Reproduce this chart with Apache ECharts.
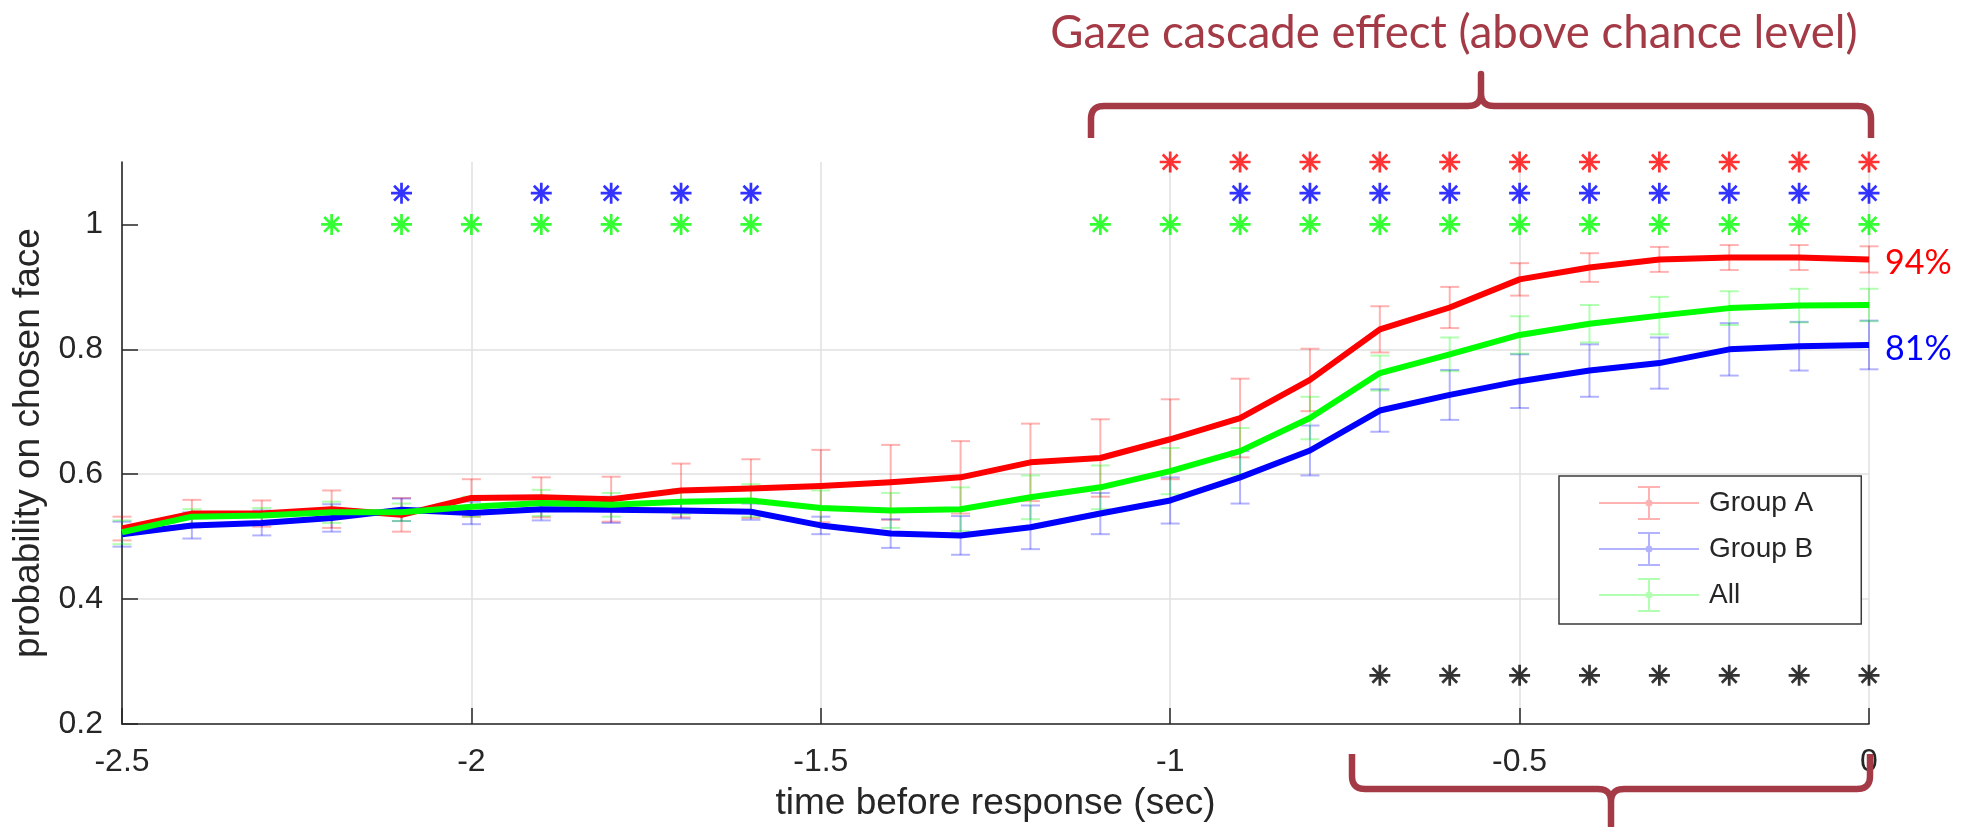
<!DOCTYPE html>
<html>
<head>
<meta charset="utf-8">
<script src="https://cdn.jsdelivr.net/npm/echarts@6/dist/echarts.min.js"></script>
<style>
  html, body { margin: 0; padding: 0; background: #ffffff; }
  #chart { width: 1973px; height: 827px; }
</style>
</head>
<body>
<div id="chart"></div>
<script>
// Time axis (seconds before the response), sampled every 100 ms
const timePoints = [-2.5, -2.4, -2.3, -2.2, -2.1, -2.0, -1.9, -1.8, -1.7, -1.6, -1.5, -1.4, -1.3,
                    -1.2, -1.1, -1.0, -0.9, -0.8, -0.7, -0.6, -0.5, -0.4, -0.3, -0.2, -0.1, 0];

// Mean probability of looking at the face that is eventually chosen
const groupA = [0.513, 0.537, 0.537, 0.544, 0.535, 0.562, 0.563, 0.560, 0.574, 0.577, 0.581, 0.587, 0.595,
                0.619, 0.626, 0.656, 0.690, 0.751, 0.832, 0.867, 0.912, 0.931, 0.944, 0.947, 0.947, 0.944];
const groupB = [0.504, 0.518, 0.522, 0.530, 0.543, 0.538, 0.544, 0.543, 0.542, 0.540, 0.518, 0.505, 0.502,
                0.515, 0.537, 0.558, 0.595, 0.638, 0.702, 0.727, 0.749, 0.766, 0.778, 0.800, 0.805, 0.807];
const allSubjects = [0.507, 0.532, 0.534, 0.539, 0.539, 0.548, 0.554, 0.551, 0.556, 0.558, 0.546, 0.542, 0.544,
                     0.563, 0.579, 0.605, 0.637, 0.690, 0.762, 0.792, 0.823, 0.841, 0.854, 0.866, 0.870, 0.871];

// Standard errors (half length of each error bar)
const groupAErr = [0.019, 0.022, 0.021, 0.030, 0.027, 0.030, 0.032, 0.036, 0.043, 0.047, 0.058, 0.060, 0.058,
                   0.062, 0.062, 0.064, 0.063, 0.050, 0.037, 0.033, 0.026, 0.023, 0.020, 0.020, 0.020, 0.021];
const groupBErr = [0.020, 0.021, 0.020, 0.022, 0.018, 0.018, 0.018, 0.021, 0.013, 0.013, 0.014, 0.023, 0.031,
                   0.035, 0.033, 0.037, 0.042, 0.040, 0.034, 0.040, 0.043, 0.042, 0.041, 0.042, 0.039, 0.039];
const allSubjectsErr = [0.019, 0.012, 0.012, 0.017, 0.014, 0.016, 0.021, 0.019, 0.020, 0.026, 0.028, 0.028, 0.035,
                        0.035, 0.035, 0.037, 0.037, 0.034, 0.028, 0.027, 0.030, 0.030, 0.030, 0.027, 0.027, 0.026];

// Time bins with a significant effect (asterisk rows)
const groupASigTimes = [-1.0, -0.9, -0.8, -0.7, -0.6, -0.5, -0.4, -0.3, -0.2, -0.1, 0];
const groupBSigTimes = [-2.1, -1.9, -1.8, -1.7, -1.6, -0.9, -0.8, -0.7, -0.6, -0.5, -0.4, -0.3, -0.2, -0.1, 0];
const allSigTimes = [-2.2, -2.1, -2.0, -1.9, -1.8, -1.7, -1.6, -1.1, -1.0, -0.9, -0.8, -0.7, -0.6, -0.5,
                     -0.4, -0.3, -0.2, -0.1, 0];
const groupDiffSigTimes = [-0.7, -0.6, -0.5, -0.4, -0.3, -0.2, -0.1, 0];

// Height of each asterisk row on the probability axis
const groupASigLevel = 1.1;
const groupBSigLevel = 1.05;
const allSigLevel = 1.0;
const groupDiffSigLevel = 0.278;

// Axis ticks
const xTicks = [-2.5, -2, -1.5, -1, -0.5, 0];
const yTicks = [0.2, 0.4, 0.6, 0.8, 1.0];

const seriesNames = ['Group A', 'Group B', 'All'];
const annotationTitle = 'Gaze cascade effect (above chance level)';

// ---------------------------------------------------------------------------
const axisFont = 'Liberation Sans, Arial, Helvetica, sans-serif';
const noteFont = 'Lato, Noto Sans, sans-serif';
const inkColor = '#262626';
const noteColor = '#a53a47';
const solid = ['#ff0000', '#0000ff', '#00ff00'];
const faint = ['rgba(255,0,0,0.3)', 'rgba(0,0,255,0.3)', 'rgba(0,255,0,0.3)'];

// Eight-armed asterisk marker (plus overlaid with a cross)
const asteriskPath = 'path://M43.5 0 L56.5 0 L56.5 100 L43.5 100 Z M0 43.5 L100 43.5 L100 56.5 L0 56.5 Z ' +
  'M19.2 10 L90 80.8 L80.8 90 L10 19.2 Z M90 19.2 L19.2 90 L10 80.8 L80.8 10 Z';
// Legend glyph: horizontal stroke with a capped vertical error bar and a dot
const errorbarIcon = 'path://M0 16 L100 16 L100 18 L0 18 Z M49 0 L51 0 L51 34 L49 34 Z ' +
  'M39 0 L61 0 L61 2 L39 2 Z M39 32 L61 32 L61 34 L39 34 Z ' +
  'M46.5 17 A3.5 3.5 0 1 1 53.5 17 A3.5 3.5 0 1 1 46.5 17 Z';

function pairs(xs, ys) { return xs.map((x, i) => [x, ys[i]]); }
function errRows(xs, ys, es) { return xs.map((x, i) => [x, ys[i] - es[i], ys[i] + es[i]]); }
function level(xs, v) { return xs.map(x => [x, v]); }

const capHalf = 9.5;
function errorBarRenderer(color) {
  return function (params, api) {
    const x = api.value(0);
    const top = api.coord([x, api.value(2)]);
    const bot = api.coord([x, api.value(1)]);
    const style = { stroke: color, lineWidth: 2, fill: null };
    return {
      type: 'group',
      children: [
        { type: 'line', shape: { x1: top[0], y1: top[1], x2: bot[0], y2: bot[1] }, style: style },
        { type: 'line', shape: { x1: top[0] - capHalf, y1: top[1], x2: top[0] + capHalf, y2: top[1] }, style: style },
        { type: 'line', shape: { x1: bot[0] - capHalf, y1: bot[1], x2: bot[0] + capHalf, y2: bot[1] }, style: style }
      ]
    };
  };
}

// Curly-brace outline between x0 and x1: the long bar sits at barY,
// both ends bend toward endY and the middle tip reaches tipY.
function bracePoints(x0, x1, barY, endY, tipY, r) {
  const xm = (x0 + x1) / 2;
  const pts = [];
  function quad(p0, c, p1) {
    for (let k = 1; k <= 10; k++) {
      const t = k / 10, u = 1 - t;
      pts.push([u * u * p0[0] + 2 * u * t * c[0] + t * t * p1[0], u * u * p0[1] + 2 * u * t * c[1] + t * t * p1[1]]);
    }
  }
  const s = Math.sign(endY - barY);
  pts.push([x0, endY]);
  pts.push([x0, barY + s * r]);
  quad([x0, barY + s * r], [x0, barY], [x0 + r, barY]);
  pts.push([xm - r, barY]);
  quad([xm - r, barY], [xm, barY], [xm, barY - s * r]);
  pts.push([xm, tipY]);
  pts.push([xm, barY - s * r]);
  quad([xm, barY - s * r], [xm, barY], [xm + r, barY]);
  pts.push([x1 - r, barY]);
  quad([x1 - r, barY], [x1, barY], [x1, barY + s * r]);
  pts.push([x1, endY]);
  return pts;
}

const means = [groupA, groupB, allSubjects];
const errs = [groupAErr, groupBErr, allSubjectsErr];

const errorSeries = seriesNames.map((name, i) => ({
  name: name,
  type: 'custom',
  clip: false,
  itemStyle: { color: faint[i] },
  encode: { x: 0, y: [1, 2] },
  renderItem: errorBarRenderer(faint[i]),
  data: errRows(timePoints, means[i], errs[i]),
  z: 2
}));

const endLabelOffsets = [[0, 4], [0, 4], [0, 0]];
const lineSeries = seriesNames.map((name, i) => ({
  name: name,
  type: 'line',
  symbol: 'none',
  clip: false,
  lineStyle: { color: solid[i], width: 6, cap: 'butt', join: 'round' },
  itemStyle: { color: solid[i] },
  data: pairs(timePoints, means[i]),
  endLabel: {
    show: i < 2,
    formatter: p => Math.round(p.value[1] * 100) + '%',
    color: solid[i],
    fontFamily: noteFont,
    fontSize: 34,
    distance: 16,
    offset: endLabelOffsets[i]
  },
  z: 3
}));

function starSeries(times, lvl, color) {
  return {
    type: 'scatter',
    symbol: asteriskPath,
    symbolSize: 21,
    clip: false,
    itemStyle: { color: color },
    data: level(times, lvl),
    z: 4
  };
}

const braceStyle = { fill: null, stroke: noteColor, lineWidth: 6.5, lineJoin: 'round' };

const option = {
  backgroundColor: '#ffffff',
  animation: false,
  grid: { left: 122, right: 104, top: 162, bottom: 100, containLabel: false },
  xAxis: {
    type: 'value',
    min: xTicks[0],
    max: xTicks[xTicks.length - 1],
    interval: 0.5,
    name: 'time before response (sec)',
    nameLocation: 'middle',
    nameGap: 61,
    nameTextStyle: { fontFamily: axisFont, fontSize: 37, color: inkColor },
    axisLine: { show: true, onZero: false, lineStyle: { color: inkColor, width: 1.6 } },
    axisTick: { show: true, inside: true, length: 16, lineStyle: { color: inkColor, width: 1.5 } },
    axisLabel: { margin: 22, fontFamily: axisFont, fontSize: 32, color: inkColor },
    splitLine: { show: true, lineStyle: { color: '#e0e0e0', width: 1.5 } }
  },
  yAxis: {
    type: 'value',
    min: 0.2,
    max: 1.1,
    interval: 0.2,
    name: 'probability on chosen face',
    nameLocation: 'middle',
    nameRotate: 90,
    nameGap: 70,
    nameTextStyle: { fontFamily: axisFont, fontSize: 37, color: inkColor },
    axisLine: { show: true, onZero: false, lineStyle: { color: inkColor, width: 1.6 } },
    axisTick: { show: true, inside: true, length: 16, customValues: yTicks, lineStyle: { color: inkColor, width: 1.5 } },
    axisLabel: { margin: 19, fontFamily: axisFont, fontSize: 32, color: inkColor, customValues: yTicks },
    splitLine: { show: true, showMaxLine: false, lineStyle: { color: '#e0e0e0', width: 1.5 } }
  },
  legend: {
    orient: 'vertical',
    left: 1559,
    top: 476,
    padding: [10, 48, 12, 40],
    itemGap: 12,
    itemWidth: 100,
    itemHeight: 34,
    backgroundColor: '#ffffff',
    borderColor: '#3a3a3a',
    borderWidth: 1.5,
    selectedMode: false,
    textStyle: { fontFamily: axisFont, fontSize: 28, color: inkColor, padding: [0, 0, 0, 5] },
    data: seriesNames.map((name, i) => ({
      name: name,
      icon: errorbarIcon,
      itemStyle: { color: faint[i], borderWidth: 0 }
    }))
  },
  graphic: [
    {
      type: 'text',
      x: 1454,
      y: 33,
      style: {
        text: annotationTitle,
        fontFamily: noteFont,
        fontSize: 45.5,
        fill: noteColor,
        align: 'center',
        verticalAlign: 'middle'
      },
      z: 10
    },
    {
      type: 'polyline',
      shape: { points: bracePoints(1091, 1871, 106, 138, 74, 13) },
      style: braceStyle,
      z: 10
    },
    {
      type: 'polyline',
      shape: { points: bracePoints(1352, 1870, 789, 754, 826, 13) },
      style: braceStyle,
      z: 10
    }
  ],
  series: [].concat(
    errorSeries,
    lineSeries,
    [
      starSeries(groupASigTimes, groupASigLevel, solid[0]),
      starSeries(groupBSigTimes, groupBSigLevel, solid[1]),
      starSeries(allSigTimes, allSigLevel, solid[2]),
      starSeries(groupDiffSigTimes, groupDiffSigLevel, '#000000')
    ]
  )
};

const chart = echarts.init(document.getElementById('chart'), null, { renderer: 'canvas' });
chart.setOption(option);
</script>
</body>
</html>
